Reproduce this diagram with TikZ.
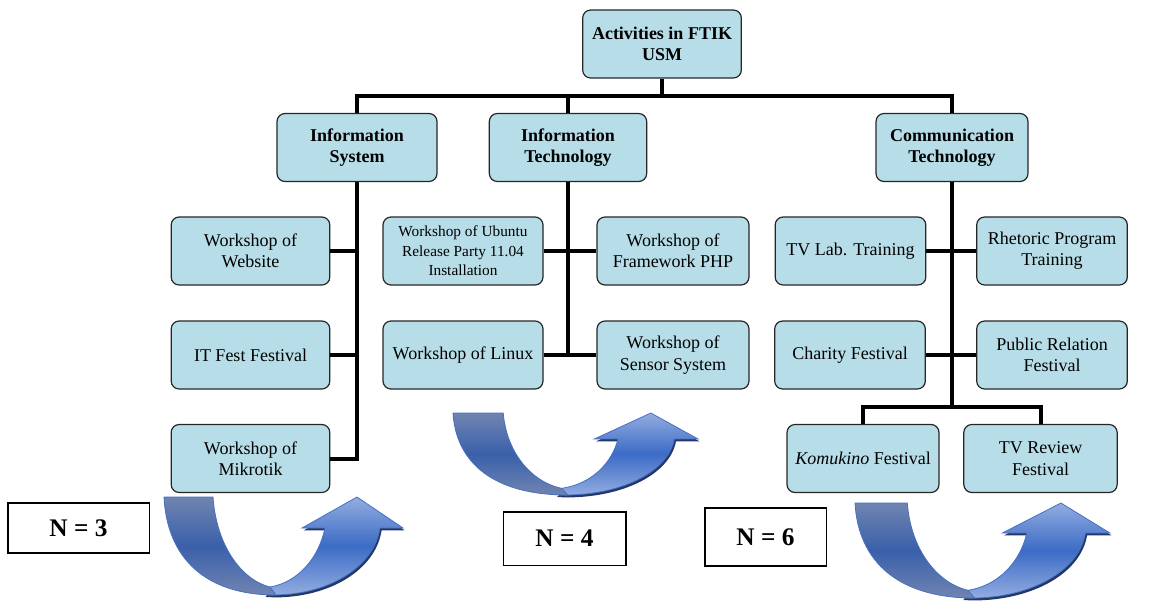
\documentclass[tikz,border=0pt]{standalone}
\usepackage{fontspec}
\setmainfont{Liberation Serif}
\usetikzlibrary{positioning}

\definecolor{boxfill}{HTML}{B7DEE8}
\definecolor{ribbondark}{RGB}{112,132,176}
\definecolor{ribbonmid}{RGB}{58,96,170}
\definecolor{ribbonlight}{RGB}{146,172,224}
\definecolor{ribbonblue}{RGB}{60,108,198}
\definecolor{ribbonedge}{RGB}{72,112,192}
\definecolor{ribbonshadow}{RGB}{35,55,105}

\tikzset{
    orgbox/.style={draw=black!85, fill=boxfill, rounded corners=6pt, line width=0.9pt,
        align=center, minimum height=51pt, inner sep=2pt,
        font=\fontsize{13.5}{16}\selectfont},
    headbox/.style={orgbox, font=\fontsize{13.5}{16}\selectfont\bfseries},
    countbox/.style={draw, line width=1pt, font=\fontsize{19}{22}\selectfont\bfseries},
    link/.style={line width=3pt},
    uturn/.pic={
        % light half with its shadow
        \path[preaction={fill=ribbonshadow, transform canvas={xshift=1.2pt, yshift=-1.8pt}},
              draw=ribbonedge, line width=0.6pt,
              top color=ribbonlight, bottom color=ribbonlight, middle color=ribbonblue]
            (100,97.5) -- (109,98) .. controls (165,98) and (210,70) .. (216,31)
            -- (239,31) -- (193,0) -- (138,31) -- (161,31)
            .. controls (155,60) and (135,85) .. (106,90) -- cycle;
        % dark half
        \path[draw=ribbonedge, line width=0.6pt,
              top color=ribbondark, bottom color=ribbondark, middle color=ribbonmid]
            (0,0) -- (49,0) .. controls (52,45) and (75,82) .. (106,90)
            -- (112,98) .. controls (40,98) and (3,60) .. (0,0) -- cycle;
    }
}

\begin{document}
\begin{tikzpicture}[x=0.75pt, y=-0.75pt]
    \useasboundingbox (0,0) rectangle (1149,601);

    % top and the three study programmes
    \node[headbox, minimum width=119pt] (top) at (662,44) {Activities in FTIK\\USM};
    \node[headbox, minimum width=120pt] (is) at (357,147.5) {Information\\System};
    \node[headbox, minimum width=118pt] (it) at (568,147.5) {Information\\Technology};
    \node[headbox, minimum width=114pt] (ct) at (952,147.5) {Communication\\Technology};

    % Information System
    \node[orgbox, minimum width=119pt] (web) at (250.5,251) {Workshop of\\Website};
    \node[orgbox, minimum width=119pt] (fest) at (250.5,355) {IT Fest Festival};
    \node[orgbox, minimum width=119pt] (mik) at (250.5,458.5) {Workshop of\\Mikrotik};

    % Information Technology
    \node[orgbox, minimum width=120pt, font=\fontsize{11.5}{14.5}\selectfont] (ubu) at (463,251)
        {Workshop of Ubuntu\\Release Party 11.04\\Installation};
    \node[orgbox, minimum width=114pt] (php) at (673,251) {Workshop of\\Framework PHP};
    \node[orgbox, minimum width=120pt] (lin) at (463,355) {Workshop of Linux};
    \node[orgbox, minimum width=114pt] (sen) at (673,355) {Workshop of\\Sensor System};

    % Communication Technology
    \node[orgbox, minimum width=113pt] (tvl) at (850.5,251) {TV Lab. Training};
    \node[orgbox, minimum width=113pt] (rhe) at (1052,251) {Rhetoric Program\\Training};
    \node[orgbox, minimum width=113pt] (cha) at (850,355) {Charity Festival};
    \node[orgbox, minimum width=113pt] (pub) at (1052,355) {Public Relation\\Festival};
    \node[orgbox, minimum width=114pt] (kom) at (863,458.5) {\textit{Komukino} Festival};
    \node[orgbox, minimum width=115pt] (tvr) at (1040.5,458.5) {TV Review\\Festival};

    % counts
    \node[countbox, minimum width=106pt, minimum height=37.5pt] (n3) at (78.5,528) {N = 3};
    \node[countbox, minimum width=92pt, minimum height=40pt] (n4) at (564.5,538.5) {N = 4};
    \node[countbox, minimum width=91pt, minimum height=43.5pt] (n6) at (765.5,537) {N = 6};

    % connectors
    \coordinate (bus) at (662,96);
    \coordinate (ctbus) at (952,407);
    \draw[link] (top.south) -- (bus);
    \draw[link] (is.north) |- (bus) -| (ct.north);
    \draw[link] (it.north) -- (it.north |- bus);
    \draw[link] (is.south) |- (mik.east);
    \draw[link] (web.east) -- (web.east -| is.south);
    \draw[link] (fest.east) -- (fest.east -| is.south);
    \draw[link] (it.south) -- (it.south |- lin.east);
    \draw[link] (ubu.east) -- (php.west);
    \draw[link] (lin.east) -- (sen.west);
    \draw[link] (ct.south) -- (ctbus);
    \draw[link] (tvl.east) -- (rhe.west);
    \draw[link] (cha.east) -- (pub.west);
    \draw[link] (kom.north) |- (ctbus) -| (tvr.north);

    % u-turn arrows
    \pic at (164,497) {uturn};
    \pic[xscale=1.025, yscale=0.837] at (453,413) {uturn};
    \pic[xscale=1.067, yscale=0.97] at (855,503) {uturn};
\end{tikzpicture}
\end{document}
